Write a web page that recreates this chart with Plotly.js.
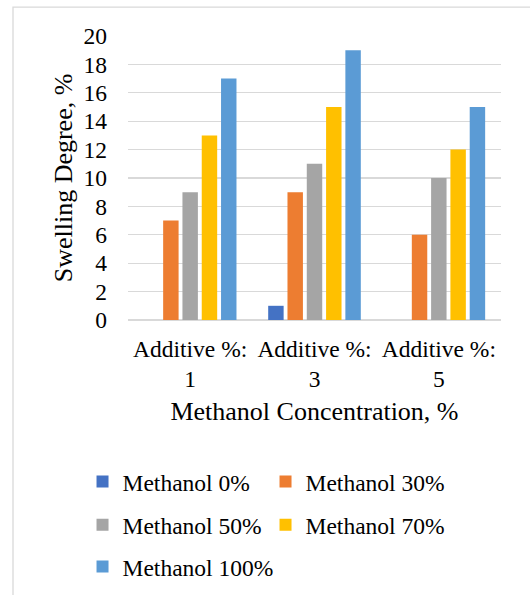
<!DOCTYPE html>
<html>
<head>
<meta charset="utf-8">
<script src="https://cdn.plot.ly/plotly-3.0.1.min.js"></script>
<style>html,body{margin:0;padding:0;background:#fff;}#chart{width:530px;height:595px;}</style>
</head>
<body>
<div id="chart"></div>
<script>
var categories = ["Additive %:<br>1", "Additive %:<br>3", "Additive %:<br>5"];
var seriesNames = ["Methanol 0%", "Methanol 30%", "Methanol 50%", "Methanol 70%", "Methanol 100%"];
var methanol0 = [0, 1, 0];
var methanol30 = [7, 9, 6];
var methanol50 = [9, 11, 10];
var methanol70 = [13, 15, 12];
var methanol100 = [17, 19, 15];
var yTicks = [0, 2, 4, 6, 8, 10, 12, 14, 16, 18, 20];

var seriesValues = [methanol0, methanol30, methanol50, methanol70, methanol100];
var colors = ["#4472C4", "#ED7D31", "#A5A5A5", "#FFC000", "#5B9BD5"];
var legendIds = ["legend", "legend", "legend2", "legend2", "legend3"];
var FONT = "Liberation Serif, 'Times New Roman', serif";

var traces = seriesNames.map(function (name, i) {
  return {
    type: "bar",
    name: name,
    x: categories,
    y: seriesValues[i],
    marker: { color: colors[i], line: { width: 0 } },
    legend: legendIds[i],
    hoverinfo: "x+y+name"
  };
});

function legendCfg(y, ew) {
  return {
    orientation: "h",
    x: 0.1557, xanchor: "left",
    y: y, yanchor: "middle",
    xref: "container", yref: "container",
    entrywidth: ew,
    font: { family: FONT, size: 23.5, color: "#000" },
    bgcolor: "rgba(0,0,0,0)",
    borderwidth: 0,
    traceorder: "normal"
  };
}

var layout = {
  width: 530,
  height: 595,
  paper_bgcolor: "#fff",
  plot_bgcolor: "#fff",
  margin: { l: 128, r: 29, t: 36, b: 275 },
  barmode: "group",
  bargap: 0.224,
  bargroupgap: 0.2,
  font: { family: FONT, color: "#000" },
  xaxis: {
    type: "category",
    showgrid: false,
    showline: false,
    zeroline: false,
    ticks: "",
    ticklabelstandoff: 12,
    tickfont: { family: FONT, size: 23.5, color: "#000" },
    title: { text: "Methanol Concentration, %", font: { family: FONT, size: 26, color: "#000" }, standoff: 10 },
    automargin: true
  },
  yaxis: {
    range: [0, 20],
    tickvals: yTicks,
    ticktext: yTicks.map(String),
    showgrid: true,
    gridcolor: "#d9d9d9",
    gridwidth: 1.3,
    zeroline: true,
    zerolinecolor: "#d9d9d9",
    zerolinewidth: 1.3,
    showline: false,
    ticks: "",
    ticklabelstandoff: 20,
    tickfont: { family: FONT, size: 23.5, color: "#000" },
    title: { text: "Swelling Degree, %", font: { family: FONT, size: 26, color: "#000" }, standoff: 3 },
    automargin: true
  },
  showlegend: true,
  legend: legendCfg(0.1904, 138),
  legend2: legendCfg(0.1176, 138),
  legend3: legendCfg(0.0476, 200),
  shapes: [{
    type: "rect", xref: "paper", yref: "paper", layer: "below",
    x0: -0.3083, x1: 1.2, y0: -1.2, y1: 1.1015,
    line: { color: "#d9d9d9", width: 1.3 }, fillcolor: "rgba(0,0,0,0)"
  }]
};

Plotly.newPlot("chart", traces, layout, { displayModeBar: false, staticPlot: true });
</script>
</body>
</html>
